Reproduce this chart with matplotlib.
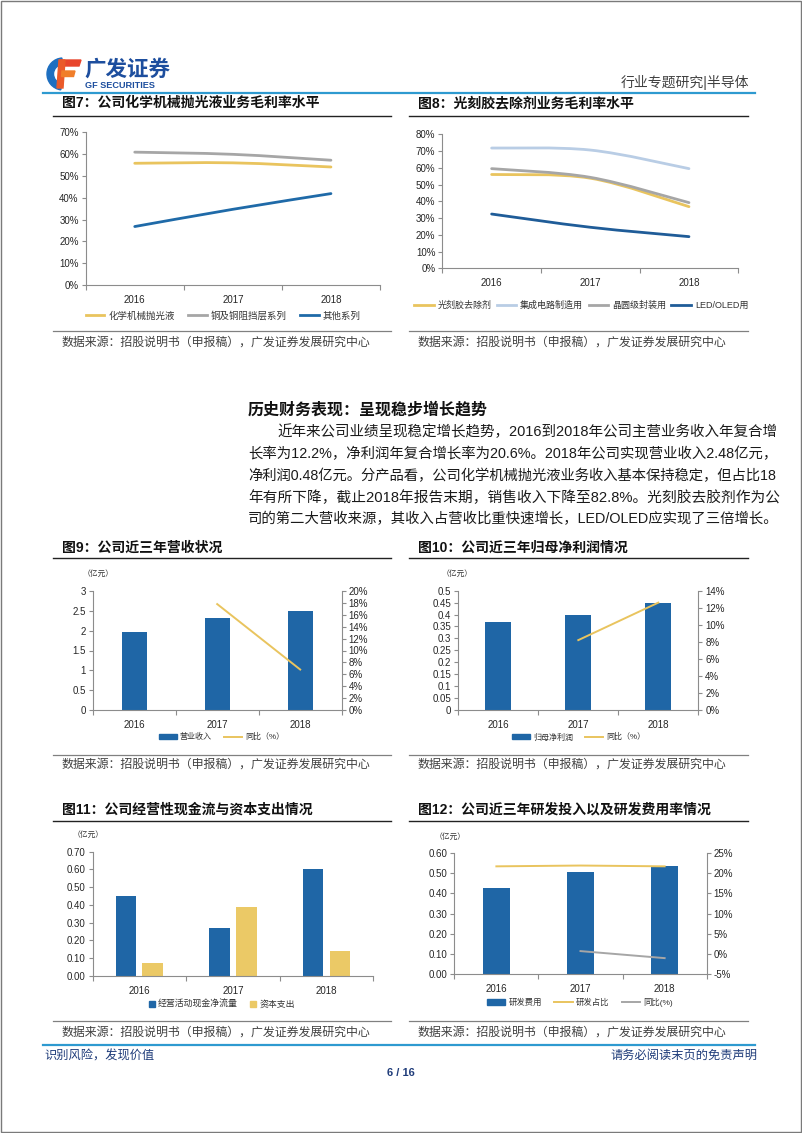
import matplotlib
matplotlib.use('Agg')
import matplotlib.pyplot as plt
from matplotlib.path import Path
from matplotlib.patches import PathPatch, Wedge, Polygon, Rectangle, Patch
from matplotlib.lines import Line2D
import numpy as np

plt.rcParams['font.family'] = ['Liberation Sans', 'Noto Sans CJK SC', 'DejaVu Sans']

# ---------------- data ----------------
years = ['2016', '2017', '2018']

cmp_names = ['化学机械抛光液', '铜及铜阻挡层系列', '其他系列']
cmp_polish = [55.8, 56.0, 54.1]
cmp_copper = [60.9, 59.9, 57.2]
cmp_other = [26.8, 34.7, 41.9]

pr_names = ['光刻胶去除剂', '集成电路制造用', '晶圆级封装用', 'LED/OLED用']
pr_remover = [56.0, 53.8, 36.8]
pr_ic = [71.8, 70.6, 59.5]
pr_wafer = [59.5, 54.3, 39.2]
pr_led = [32.4, 24.5, 18.9]

revenue = [1.96, 2.31, 2.49]
revenue_yoy = [np.nan, 17.8, 6.8]

profit = [0.367, 0.400, 0.448]
profit_yoy = [np.nan, 8.2, 12.6]

op_cashflow = [0.448, 0.270, 0.600]
capex = [0.071, 0.388, 0.140]

rd_cost = [0.427, 0.507, 0.537]
rd_ratio = [21.7, 21.9, 21.7]
rd_yoy = [np.nan, 0.74, -1.0]

# ---------------- colours ----------------
BLUE = '#1F66A6'
BLUE_L = '#1F6AA8'
BLUE_D = '#1F5C98'
YEL = '#E9C45E'
YEL_BAR = '#EBC966'
GRAY = '#A6A6A6'
LBLUE = '#B9CDE5'
AX = '#8C8C8C'
TXT = '#262626'
HBLUE = '#2E9AD0'
FOOT = '#1F3C7A'

W, H = 802, 1133
fig = plt.figure(figsize=(W / 100, H / 100), dpi=100)
renderer = fig.canvas.get_renderer()


def axes_px(x0, y0, x1, y1):
    return fig.add_axes([x0 / W, 1 - y1 / H, (x1 - x0) / W, (y1 - y0) / H])


def text_px(x, y, s, **kw):
    kw.setdefault('va', 'center')
    return fig.text(x / W, 1 - y / H, s, **kw)


def hline_px(x0, x1, y, color, lw):
    fig.add_artist(Line2D([x0 / W, x1 / W], [1 - y / H, 1 - y / H],
                          color=color, lw=lw, transform=fig.transFigure))


def smooth_path(xs, ys):
    pts = np.column_stack([xs, ys]).astype(float)
    n = len(pts)
    verts = [pts[0]]
    codes = [Path.MOVETO]
    for i in range(n - 1):
        p0 = pts[i - 1] if i > 0 else pts[i]
        p1 = pts[i]
        p2 = pts[i + 1]
        p3 = pts[i + 2] if i + 2 < n else pts[i + 1]
        verts += [p1 + (p2 - p0) / 6, p2 - (p3 - p1) / 6, p2]
        codes += [Path.CURVE4] * 3
    return Path(verts, codes)


def style(ax, ylim, yticks, ylabels):
    ax.set_xlim(-0.5, 2.5)
    ax.set_ylim(*ylim)
    ax.set_facecolor('none')
    for s in ['top', 'right']:
        ax.spines[s].set_visible(False)
    for s in ['left', 'bottom']:
        ax.spines[s].set_color(AX)
        ax.spines[s].set_linewidth(0.8)
    ax.set_xticks([0, 1, 2])
    ax.set_xticklabels(years)
    ax.set_xticks([-0.5, 0.5, 1.5, 2.5], minor=True)
    ax.tick_params(axis='x', which='major', length=0, pad=7, labelsize=7, labelcolor=TXT)
    ax.tick_params(axis='x', which='minor', length=3.5, color=AX, width=0.8)
    ax.set_yticks(yticks)
    ax.set_yticklabels(ylabels)
    ax.tick_params(axis='y', length=3, color=AX, width=0.8, labelsize=7, pad=2, labelcolor=TXT)


def right_axis(ax, ylim, yticks, ylabels):
    a2 = ax.twinx()
    a2.set_ylim(*ylim)
    for s in ['top', 'left', 'bottom']:
        a2.spines[s].set_visible(False)
    a2.spines['right'].set_color(AX)
    a2.spines['right'].set_linewidth(0.8)
    a2.set_yticks(yticks)
    a2.set_yticklabels(ylabels)
    a2.tick_params(axis='y', length=3, color=AX, width=0.8, labelsize=7, pad=2, labelcolor=TXT)
    a2.set_xlim(-0.5, 2.5)
    return a2


def legend_px(handles, labels, cx, cy, fs, **kw):
    fig.legend(handles, labels, loc='center', bbox_to_anchor=(cx / W, 1 - cy / H),
               ncol=len(handles), frameon=False, fontsize=fs,
               handletextpad=0.4, borderpad=0, borderaxespad=0,
               labelcolor='#333333', **kw)


def title_block(x, y, s, x0, x1, yline):
    text_px(x, y, s, fontsize=10, fontweight='bold', color='#111111', ha='left')
    hline_px(x0, x1, yline, '#222222', 1.0)


def source_block(x, y, x0, x1, yline):
    hline_px(x0, x1, yline, '#808080', 0.9)
    text_px(x, y, '数据来源：招股说明书（申报稿），广发证券发展研究中心',
            fontsize=8.6, color='#404040', ha='left')


xs = np.arange(3)

# ---------------- page frame / header / footer ----------------
fig.add_artist(Rectangle((1 / W, 1 - 1131.5 / H), 799.5 / W, 1130.5 / H,
                         transform=fig.transFigure, fill=False, ec='#7a7a7a', lw=1.0))

logo = axes_px(44, 55, 82, 91)
logo.set_xlim(0, 38)
logo.set_ylim(36, 0)
logo.axis('off')
logo.add_patch(Wedge((19, 19), 16, 98, 266, width=6.5, color='#1E6FC0'))
logo.add_patch(Polygon([(16, 5), (37, 5), (35, 11), (15, 11)], color='#E8452C'))
logo.add_patch(Polygon([(15, 5), (21, 5), (19, 33), (13, 33)], color='#EA5A2A'))
logo.add_patch(Polygon([(18, 16), (31, 16), (29.5, 21.5), (17.5, 21.5)], color='#F07E2A'))

text_px(84, 70, '广发证券', fontsize=15.5, fontweight='bold', color='#1D4E9E', ha='left')
text_px(85, 86, 'GF SECURITIES', fontsize=6.6, fontweight='bold', color='#1D4E9E', ha='left')
text_px(749, 82, '行业专题研究|半导体', fontsize=10, color='#404040', ha='right')
hline_px(43, 755, 92.5, HBLUE, 1.6)

hline_px(43, 755, 1045, HBLUE, 1.6)
text_px(44, 1056, '识别风险，发现价值', fontsize=8.8, color=FOOT, ha='left')
text_px(757, 1056, '请务必阅读末页的免责声明', fontsize=8.8, color=FOOT, ha='right')
text_px(401, 1073, '6 / 16', fontsize=8, fontweight='bold', color=FOOT, ha='center')

# ---------------- Figure 7 ----------------
title_block(62, 103, '图7：公司化学机械抛光液业务毛利率水平', 53, 391, 116)
ax7 = axes_px(85.7, 132.3, 380, 285)
style(ax7, (0, 70), range(0, 71, 10), [f'{v}%' for v in range(0, 71, 10)])
for vals, c in [(cmp_polish, YEL), (cmp_copper, GRAY), (cmp_other, BLUE_L)]:
    ax7.add_patch(PathPatch(smooth_path(xs, vals), fill=False, ec=c, lw=2.0, capstyle='round'))
h7 = [Line2D([], [], color=c, lw=2.0) for c in [YEL, GRAY, BLUE_L]]
legend_px(h7, cmp_names, 223, 315.7, 6.8, handlelength=2.0, columnspacing=1.4)
source_block(62, 342.7, 53, 391, 331)

# ---------------- Figure 8 ----------------
title_block(418, 103, '图8：光刻胶去除剂业务毛利率水平', 409, 748, 116)
ax8 = axes_px(442.3, 134.3, 738.3, 268.3)
style(ax8, (0, 80), range(0, 81, 10), [f'{v}%' for v in range(0, 81, 10)])
for vals, c in [(pr_remover, YEL), (pr_ic, LBLUE), (pr_wafer, GRAY), (pr_led, BLUE_D)]:
    ax8.add_patch(PathPatch(smooth_path(xs, vals), fill=False, ec=c, lw=2.0, capstyle='round'))
h8 = [Line2D([], [], color=c, lw=2.0) for c in [YEL, LBLUE, GRAY, BLUE_D]]
legend_px(h8, pr_names, 581, 305.7, 6.5, handlelength=2.2, columnspacing=0.6)
source_block(418, 342.7, 409, 748, 331)

# ---------------- text section ----------------
text_px(248, 410, '历史财务表现：呈现稳步增长趋势', fontsize=11.5, fontweight='bold',
        color='#111111', ha='left')
para = [
    '近年来公司业绩呈现稳定增长趋势，2016到2018年公司主营业务收入年复合增',
    '长率为12.2%，净利润年复合增长率为20.6%。2018年公司实现营业收入2.48亿元，',
    '净利润0.48亿元。分产品看，公司化学机械抛光液业务收入基本保持稳定，但占比18',
    '年有所下降，截止2018年报告末期，销售收入下降至82.8%。光刻胶去胶剂作为公',
    '司的第二大营收来源，其收入占营收比重快速增长，LED/OLED应实现了三倍增长。',
]
para_y = [432, 454, 476, 498, 519]
right_edge = 776
for i, (line, y) in enumerate(zip(para, para_y)):
    x0 = 277 if i == 0 else 248
    t = text_px(x0, y, line, fontsize=10.3, color='#1a1a1a', ha='left')
    wpx = t.get_window_extent(renderer=renderer).width
    t.set_fontsize(10.3 * (right_edge - x0) / wpx)

# ---------------- Figure 9 ----------------
title_block(62, 548, '图9：公司近三年营收状况', 53, 391, 558)
ax9 = axes_px(92.7, 591, 341.7, 710)
style(ax9, (0, 3), np.arange(0, 3.01, 0.5), ['0', '0.5', '1', '1.5', '2', '2.5', '3'])
ax9.bar(xs, revenue, width=0.30, color=BLUE, zorder=2)
ax9b = right_axis(ax9, (0, 20), range(0, 21, 2), [f'{v}%' for v in range(0, 21, 2)])
ax9b.plot(xs, revenue_yoy, color=YEL, lw=1.4)
text_px(83, 574.5, '（亿元）', fontsize=5.6, color='#333333', ha='left')
legend_px([Patch(color=BLUE), Line2D([], [], color=YEL, lw=1.4)], ['营业收入', '同比（%）'],
          221.5, 737.3, 5.8, handlelength=2.2, handleheight=0.6, columnspacing=1.5)
source_block(62, 765, 53, 391, 755)

# ---------------- Figure 10 ----------------
title_block(418, 548, '图10：公司近三年归母净利润情况', 409, 748, 558)
ax10 = axes_px(458.3, 590.7, 698.3, 710)
t10 = np.round(np.arange(0, 0.501, 0.05), 2)
style(ax10, (0, 0.5), t10, ['0' if v == 0 else f'{v:g}' for v in t10])
ax10.bar(xs, profit, width=0.325, color=BLUE, zorder=2)
ax10b = right_axis(ax10, (0, 14), range(0, 15, 2), [f'{v}%' for v in range(0, 15, 2)])
ax10b.plot(xs, profit_yoy, color=YEL, lw=1.4)
text_px(442, 574.5, '（亿元）', fontsize=5.6, color='#333333', ha='left')
legend_px([Patch(color=BLUE), Line2D([], [], color=YEL, lw=1.4)], ['归母净利润', '同比（%）'],
          579, 737.3, 5.8, handlelength=2.2, handleheight=0.6, columnspacing=1.5)
source_block(418, 765, 409, 748, 755)

# ---------------- Figure 11 ----------------
title_block(62, 810, '图11：公司经营性现金流与资本支出情况', 53, 391, 821)
ax11 = axes_px(92.5, 851.7, 373.3, 976)
t11 = np.round(np.arange(0, 0.701, 0.1), 2)
style(ax11, (0, 0.7), t11, [f'{v:.2f}' for v in t11])
ax11.bar(xs - 0.143, op_cashflow, width=0.22, color=BLUE, zorder=2)
ax11.bar(xs + 0.143, capex, width=0.22, color=YEL_BAR, zorder=2)
text_px(73, 835, '（亿元）', fontsize=5.6, color='#333333', ha='left')
legend_px([Patch(color=BLUE), Patch(color=YEL_BAR)], ['经营活动现金净流量', '资本支出'],
          222, 1004.3, 6.4, handlelength=0.6, handleheight=0.6, columnspacing=1.4)
source_block(62, 1032.3, 53, 391, 1021)

# ---------------- Figure 12 ----------------
title_block(418, 810, '图12：公司近三年研发投入以及研发费用率情况', 409, 748, 821)
ax12 = axes_px(454.3, 853, 706.7, 974.3)
t12 = np.round(np.arange(0, 0.601, 0.1), 2)
style(ax12, (0, 0.6), t12, [f'{v:.2f}' for v in t12])
ax12.bar(xs, rd_cost, width=0.317, color=BLUE, zorder=2)
ax12b = right_axis(ax12, (-5, 25), range(-5, 26, 5), [f'{v}%' for v in range(-5, 26, 5)])
ax12b.plot(xs, rd_ratio, color=YEL, lw=1.4)
ax12b.plot(xs, rd_yoy, color=GRAY, lw=1.4)
text_px(435, 837, '（亿元）', fontsize=5.6, color='#333333', ha='left')
legend_px([Patch(color=BLUE), Line2D([], [], color=YEL, lw=1.4), Line2D([], [], color=GRAY, lw=1.4)],
          ['研发费用', '研发占比', '同比(%)'],
          580, 1002.3, 6.0, handlelength=2.2, handleheight=0.6, columnspacing=1.5)
source_block(418, 1032.3, 409, 748, 1021)

fig.savefig('out.png', dpi=100)
